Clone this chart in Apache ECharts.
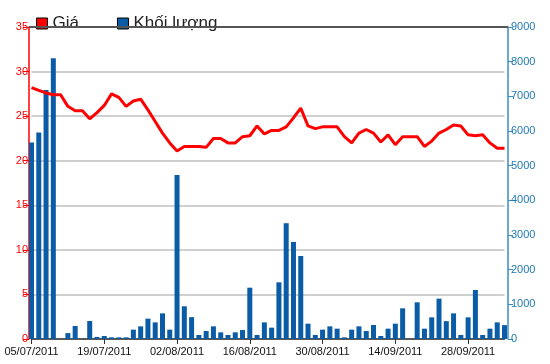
<!DOCTYPE html>
<html>
<head>
<meta charset="utf-8">
<script src="https://cdn.jsdelivr.net/npm/echarts@6/dist/echarts.min.js"></script>
<style>html,body{margin:0;padding:0;background:#fff;}#c{width:550px;height:364px;}</style>
</head>
<body>
<div id="c"></div>
<script>
const dates = [
 '05/07/2011','06/07/2011','07/07/2011','08/07/2011','11/07/2011','12/07/2011','13/07/2011','14/07/2011','15/07/2011','18/07/2011',
 '19/07/2011','20/07/2011','21/07/2011','22/07/2011','25/07/2011','26/07/2011','27/07/2011','28/07/2011','29/07/2011','01/08/2011',
 '02/08/2011','03/08/2011','04/08/2011','05/08/2011','08/08/2011','09/08/2011','10/08/2011','11/08/2011','12/08/2011','15/08/2011',
 '16/08/2011','17/08/2011','18/08/2011','19/08/2011','22/08/2011','23/08/2011','24/08/2011','25/08/2011','26/08/2011','29/08/2011',
 '30/08/2011','31/08/2011','01/09/2011','05/09/2011','06/09/2011','07/09/2011','08/09/2011','09/09/2011','12/09/2011','13/09/2011',
 '14/09/2011','15/09/2011','16/09/2011','19/09/2011','20/09/2011','21/09/2011','22/09/2011','23/09/2011','26/09/2011','27/09/2011',
 '28/09/2011','29/09/2011','30/09/2011','03/10/2011','04/10/2011','05/10/2011'
];
const price = [
 28.2,27.9,27.6,27.4,27.4,26.1,25.6,25.6,24.7,25.4,
 26.2,27.5,27.1,26.1,26.7,26.9,25.7,24.4,23.1,22.0,
 21.1,21.6,21.6,21.6,21.5,22.5,22.5,22.0,22.0,22.7,
 22.8,23.9,23.0,23.4,23.4,23.8,24.8,25.9,23.9,23.6,
 23.8,23.8,23.8,22.7,22.0,23.1,23.5,23.1,22.1,22.9,
 21.8,22.7,22.7,22.7,21.6,22.2,23.1,23.5,24.0,23.9,
 22.9,22.8,22.9,22.0,21.4,21.4
];
const volume = [
 5670,5960,7180,8100,0,170,375,0,520,60,
 87,48,48,48,270,365,587,480,740,270,
 4730,943,630,115,231,365,192,115,192,260,
 1480,115,480,327,1635,3340,2800,2395,442,115,
 270,365,298,48,270,365,231,404,87,298,
 442,885,0,1058,298,625,1164,515,740,115,
 625,1414,115,298,480,400
];
const priceTicks = [0,5,10,15,20,25,30,35];
const volumeTicks = [0,1000,2000,3000,4000,5000,6000,7000,8000,9000];

const chart = echarts.init(document.getElementById('c'), null, {renderer:'canvas'});
const font = 'Liberation Sans, Arial, sans-serif';
chart.setOption({
  animation:false,
  backgroundColor:'#fff',
  textStyle:{fontFamily:font},
  legend:{
    left:31, top:10, itemWidth:11, itemHeight:11, itemGap:38,
    icon:'rect',
    textStyle:{fontSize:17, color:'#222', fontFamily:font},
    data:[
      {name:'Giá', itemStyle:{color:'#ff0000', borderColor:'#000', borderWidth:1}},
      {name:'Khối lượng', itemStyle:{color:'#0a5ca6', borderColor:'#000', borderWidth:1}}
    ]
  },
  grid:{left:31.5, right:45.5, top:27, bottom:25},
  xAxis:{
    type:'category', data:dates, boundaryGap:false,
    axisLine:{lineStyle:{color:'#333', width:1.5}},
    axisTick:{show:true, interval:9, length:5, lineStyle:{color:'#333'}},
    axisLabel:{interval:9, fontSize:11, color:'#111', margin:7, fontFamily:font}
  },
  yAxis:[
    {type:'value', min:priceTicks[0], max:priceTicks[priceTicks.length-1], interval:5, position:'left', offset:2.5,
     axisLine:{show:true, lineStyle:{color:'#ff0000', width:1.5}},
     axisTick:{show:true, length:6, lineStyle:{color:'#ff0000'}},
     axisLabel:{fontSize:11, color:'#ff0000', margin:1, fontFamily:font},
     splitLine:{show:true, lineStyle:{color:'#cfcfcf', width:2}}},
    {type:'value', min:volumeTicks[0], max:volumeTicks[volumeTicks.length-1], interval:1000, position:'right', offset:3.5,
     axisLine:{show:true, lineStyle:{color:'#3a8dc5', width:1.5}},
     axisTick:{show:true, length:5, lineStyle:{color:'#3a8dc5'}},
     axisLabel:{fontSize:11, color:'#1f78b4', margin:3, fontFamily:font, formatter:function(v){return String(v);}},
     splitLine:{show:false}}
  ],
  graphic:[
    {type:'line', z:100, shape:{x1:29, y1:27, x2:508, y2:27}, style:{stroke:'#555', lineWidth:2}}
  ],
  series:[
    {name:'Khối lượng', type:'bar', yAxisIndex:1, data:volume, barWidth:5, clip:false,
     itemStyle:{color:'#0a5ca6'}, z:2},
    {name:'Giá', type:'line', yAxisIndex:0, data:price, showSymbol:false, symbol:'none',
     lineStyle:{color:'#ff0000', width:3}, itemStyle:{color:'#ff0000'}, z:3}
  ]
});
</script>
</body>
</html>
